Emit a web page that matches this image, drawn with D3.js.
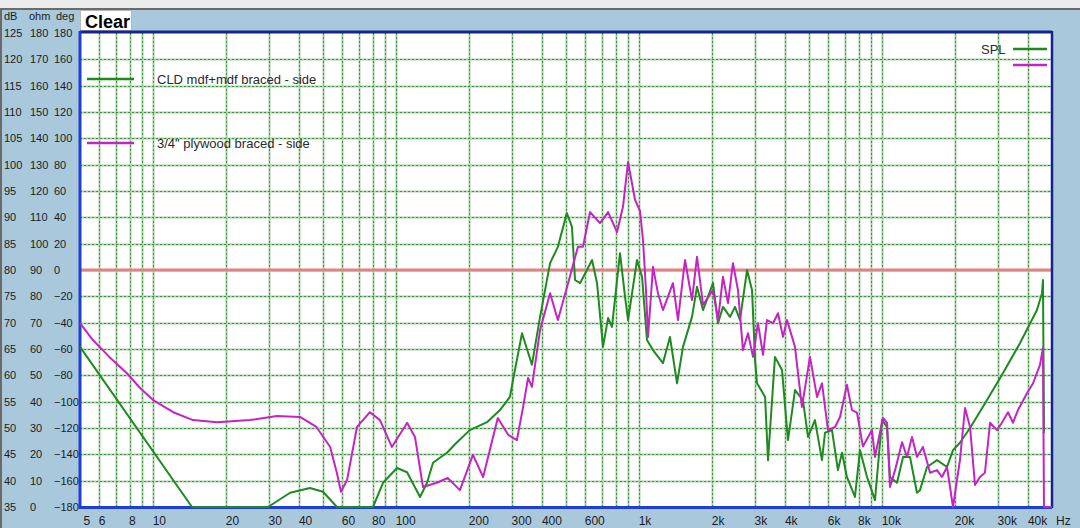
<!DOCTYPE html>
<html><head><meta charset="utf-8">
<script src="https://cdn.jsdelivr.net/npm/d3@7"></script>
<style>
html,body{margin:0;padding:0;background:#a9c8dc;overflow:hidden;}
svg{display:block;font-family:"Liberation Sans",Arial,sans-serif;}
</style></head><body>
<svg id="c" width="1080" height="528"></svg>
<script>
// ---------- data ----------
const dbTicks  = [125,120,115,110,105,100,95,90,85,80,75,70,65,60,55,50,45,40,35];
const ohmTicks = [180,170,160,150,140,130,120,110,100,90,80,70,60,50,40,30,20,10,0];
const degTicks = [180,160,140,120,100,80,60,40,20,0,-20,-40,-60,-80,-100,-120,-140,-160,-180];
const freqTickValues = [5,6,8,10,20,30,40,60,80,100,200,300,400,600,1000,2000,3000,4000,6000,8000,10000,20000,30000,40000];
const freqTickLabels = ["5","6","8","10","20","30","40","60","80","100","200","300","400","600","1k","2k","3k","4k","6k","8k","10k","20k","30k","40k"];
const seriesNames = ["CLD mdf+mdf braced - side", "3/4\" plywood braced - side"];
const referenceDb = 80;

// CLD mdf+mdf braced - side  [Hz, dB]
const cldPoints = [
[5,65.4],[14.45,35],[29.7,35],[36.6,37.7],[44.2,38.6],[50,37.9],[57.1,35],[80.3,35],[88.3,39.6],
[100.8,42.4],[110.9,41.6],[125.4,36.9],[134,39.6],[141.8,43.4],[161.8,45.3],[178,47.3],[201,49.6],
[236.6,51.1],[267.4,53.4],[294,55.9],[302.6,59.1],[329.6,68.0],[362,62.0],[391,71.1],[430,81.3],
[463,84.4],[504,90.8],[529,88.2],[544.6,78.1],[571,77.5],[610,80.0],[640,81.9],[671,77.5],[710,65.4],
[745,70.9],[773,69.2],[834,83.2],[875,74.9],[900,70.5],[980,81.9],[1028,78.7],[1077,66.7],[1140,64.8],
[1253,62.3],[1339,67.3],[1432,58.5],[1515,65.4],[1650,71.1],[1730,76.8],[1832,72.4],[2014,77.5],
[2111,69.9],[2213,73.0],[2366,71.1],[2480,73.0],[2600,70.5],[2780,80.0],[2914,76.2],[2999,62.9],
[3055,58.5],[3298,55.9],[3391,43.9],[3622,63.5],[3872,61.0],[4097,47.7],[4380,57.2],[4720,55.3],
[4954,48.3],[5290,51.5],[5655,43.9],[5818,49.1],[6217,49.6],[6577,42.0],[6838,45.3],[7161,40.7],
[7728,36.9],[8106,45.8],[8664,40.7],[9343,36.3],[9985,51.5],[10470,50.2],[10770,40.7],[11510,39.6],
[12190,44.5],[13020,44.5],[13910,37.7],[14310,38.2],[15300,42.6],[16820,43.9],[18490,42.6],
[19570,45.8],[20900,47.2],[23000,50.0],[27010,55.3],[31400,60.4],[36900,66.1],[43350,72.4],
[45480,75.6],[45900,78.1],[46340,49.1]
];

// 3/4" plywood braced - side  [Hz, dB]
const plyPoints = [
[5,69.9],[5.65,66.7],[6.6,63.5],[7.8,60.4],[8.83,57.6],[10,55.3],[12.1,53.0],[14.6,51.5],[18.3,51.1],
[25,51.5],[32.3,52.3],[40.2,52.1],[47,50.2],[53.5,46.4],[57,41.5],[59.3,37.9],[62.8,40.1],[69,50.2],
[78,53.0],[85.8,51.5],[96,46.4],[111,51.0],[119.5,48.3],[129,38.8],[147,39.6],[163,40.5],[183,38.2],
[207,44.9],[228,40.7],[262,51.9],[289,48.7],[314,47.7],[333,54.0],[349,59.5],[362,57.8],[391,68.6],
[430,75.6],[463,70.5],[510,77.5],[560,84.4],[587,84.4],[628,91.0],[690,88.9],[745,91.0],[811,87.2],
[858,92.0],[900,100.5],[962,93.3],[1008,91.2],[1037,85.7],[1067,76.2],[1088,67.3],[1140,80.6],
[1195,75.6],[1253,72.4],[1378,77.5],[1445,70.5],[1544,81.9],[1650,74.3],[1730,82.5],[1832,73.4],
[2014,76.2],[2111,70.5],[2213,78.7],[2321,73.7],[2432,81.3],[2551,76.2],[2674,64.8],[2805,68.0],
[2941,63.5],[3083,69.9],[3234,63.9],[3357,70.5],[3556,69.9],[3728,71.8],[3908,67.3],[4060,70.5],
[4377,65.4],[4677,54.0],[5046,63.5],[5395,55.9],[5655,58.5],[5985,49.6],[6397,50.2],[6710,52.1],
[7161,58.2],[7516,53.4],[7881,52.9],[8333,46.5],[9078,49.6],[9343,44.5],[10080,51.9],[10470,51.0],
[10770,38.8],[11300,42.0],[12080,47.3],[12650,44.5],[13270,48.3],[13910,44.5],[14720,46.4],
[15740,41.5],[16820,42.0],[17620,40.7],[18490,42.6],[19570,35],[20900,43.9],[21930,53.8],[23000,50.2],
[24100,39.2],[25270,40.7],[26480,41.5],[27800,51.0],[29700,49.6],[31100,51.0],[32960,53.0],
[34550,51.0],[36220,53.4],[39450,56.6],[41780,58.5],[44620,62.0],[45900,65.2],[46340,35],[50000,35]
];

// ---------- drawing ----------
const W = 1080, H = 528;
const plot = {left:80, right:1052, top:33, bottom:507};
const svg = d3.select("#c");

const x = d3.scaleLog().domain([5,50000]).range([plot.left, plot.right]);
const yDb  = d3.scaleLinear().domain([35,125]).range([plot.bottom, plot.top]);
const yOhm = d3.scaleLinear().domain([0,180]).range([plot.bottom, plot.top]);
const yDeg = d3.scaleLinear().domain([-180,180]).range([plot.bottom, plot.top]);

// window chrome
svg.append("rect").attr("x",0).attr("y",0).attr("width",W).attr("height",H).attr("fill","#a9c8dc");
svg.append("rect").attr("x",0).attr("y",0).attr("width",W).attr("height",8).attr("fill","#ececec");
svg.append("rect").attr("x",0).attr("y",8).attr("width",W).attr("height",2).attr("fill","#6a6a6a");
svg.append("rect").attr("x",0).attr("y",8).attr("width",2).attr("height",H).attr("fill","#6a6a6a");

// Clear button
svg.append("rect").attr("x",80.5).attr("y",10.5).attr("width",51).attr("height",20).attr("fill","#ffffff").attr("stroke","#b8b8b8");
svg.append("text").attr("x",85).attr("y",28).attr("font-size",18).attr("font-weight","bold").attr("fill","#000").text("Clear");

// plot area
svg.append("rect").attr("x",plot.left).attr("y",plot.top).attr("width",plot.right-plot.left).attr("height",plot.bottom-plot.top).attr("fill","#ffffff");

// grid
const vGrid = [];
[1,10,100,1000,10000].forEach(dec => { for (let m=1;m<=9;m++){ const v=m*dec; if (v>5 && v<50000) vGrid.push(v); } });
const gGrid = svg.append("g");
function gridLine(x1,y1,x2,y2){
  gGrid.append("line").attr("x1",x1).attr("y1",y1).attr("x2",x2).attr("y2",y2).attr("stroke","#a9d2a9").attr("stroke-width",2);
  gGrid.append("line").attr("x1",x1).attr("y1",y1).attr("x2",x2).attr("y2",y2).attr("stroke","#3f8f3f").attr("stroke-width",1).attr("stroke-dasharray","2,2");
}
vGrid.forEach(v => gridLine(Math.round(x(v))+0.5, plot.top, Math.round(x(v))+0.5, plot.bottom));
dbTicks.filter(v => v>35 && v<125).forEach(v => gridLine(plot.left, Math.round(yDb(v))+0.5, plot.right, Math.round(yDb(v))+0.5));

// reference line
svg.append("line").attr("x1",plot.left).attr("x2",plot.right).attr("y1",yDb(referenceDb)).attr("y2",yDb(referenceDb))
  .attr("stroke","#e08282").attr("stroke-width",3);

// border
svg.append("line").attr("x1",plot.left).attr("x2",plot.right).attr("y1",plot.top-1).attr("y2",plot.top-1).attr("stroke","#14248c").attr("stroke-width",3);
svg.append("line").attr("x1",plot.right).attr("x2",plot.right).attr("y1",plot.top-2).attr("y2",plot.bottom+1).attr("stroke","#14248c").attr("stroke-width",2.5);
svg.append("line").attr("x1",plot.left).attr("x2",plot.left).attr("y1",plot.top-2).attr("y2",plot.bottom+2).attr("stroke","#1f3fd4").attr("stroke-width",3);
svg.append("line").attr("x1",plot.left).attr("x2",plot.right).attr("y1",plot.bottom+0.5).attr("y2",plot.bottom+0.5).attr("stroke","#1f3fd4").attr("stroke-width",3);

// axes (left, three columns)
function yAxis(scale, ticks, xpos){
  const g = svg.append("g").attr("transform",`translate(${xpos},0)`)
    .call(d3.axisLeft(scale).tickValues(ticks).tickSize(0).tickFormat(d3.format("d")));
  g.select(".domain").remove();
  g.selectAll("text").attr("x",0).attr("text-anchor","start").attr("font-size",11)
    .attr("font-family","'Liberation Sans',Arial,sans-serif").attr("fill","#1c1c1c");
}
yAxis(yDb, dbTicks, 4);
yAxis(yOhm, ohmTicks, 30);
yAxis(yDeg, degTicks, 54);
const hdr = svg.append("g").attr("font-size",11).attr("fill","#1c1c1c");
hdr.append("text").attr("x",4).attr("y",20).text("dB");
hdr.append("text").attr("x",29).attr("y",20).text("ohm");
hdr.append("text").attr("x",56).attr("y",20).text("deg");

// x axis
const gx = svg.append("g").attr("transform",`translate(0,${plot.bottom})`)
  .call(d3.axisBottom(x).tickValues(freqTickValues).tickSize(0).tickFormat((d,i)=>freqTickLabels[i]));
gx.select(".domain").remove();
gx.selectAll("text").attr("y",18).attr("dy",0).attr("text-anchor","start").attr("x",(d)=> d===5 ? 3 : -1)
  .attr("font-size",12).attr("font-family","'Liberation Sans',Arial,sans-serif").attr("fill","#1c1c1c");
svg.append("text").attr("x",1056).attr("y",525).attr("font-size",12).attr("fill","#1c1c1c").text("Hz");

// curves
const line = d3.line().x(d=>x(d[0])).y(d=>yDb(d[1]));
svg.append("path").datum(cldPoints).attr("d",line).attr("fill","none").attr("stroke","#1f8a1f").attr("stroke-width",2).attr("stroke-linejoin","round");
svg.append("path").datum(plyPoints).attr("d",line).attr("fill","none").attr("stroke","#c424c4").attr("stroke-width",2).attr("stroke-linejoin","round");

// legends
const colors = ["#1f8a1f","#c424c4"];
const lg = svg.append("g");
[79,143].forEach((yy,i)=>{
  lg.append("line").attr("x1",87).attr("x2",134).attr("y1",yy).attr("y2",yy).attr("stroke",colors[i]).attr("stroke-width",2.5);
  lg.append("text").attr("x",157).attr("y",yy+4.5).attr("font-size",13).attr("fill","#2a2a2a").text(seriesNames[i]);
});
lg.append("text").attr("x",981).attr("y",54).attr("font-size",13).attr("fill","#2a2a2a").text("SPL");
lg.append("line").attr("x1",1013).attr("x2",1047).attr("y1",49).attr("y2",49).attr("stroke",colors[0]).attr("stroke-width",2.5);
lg.append("line").attr("x1",1013).attr("x2",1047).attr("y1",65).attr("y2",65).attr("stroke",colors[1]).attr("stroke-width",2.5);
</script>
</body></html>
